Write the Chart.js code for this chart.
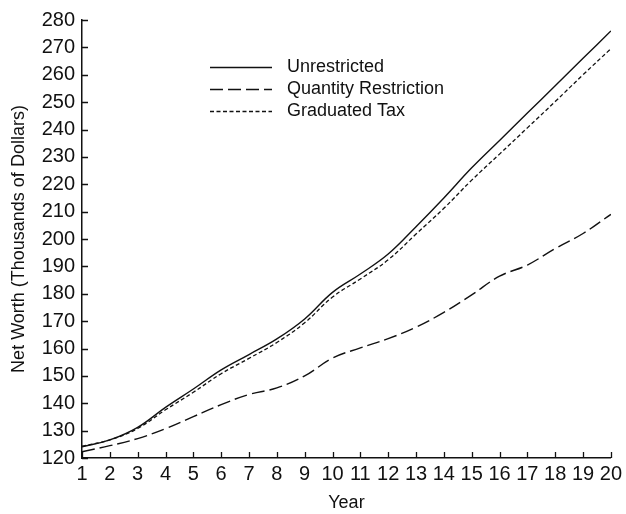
<!DOCTYPE html>
<html>
<head>
<meta charset="utf-8">
<script src="https://cdn.jsdelivr.net/npm/chart.js@4/dist/chart.umd.min.js"></script>
<style>
  html, body { margin: 0; padding: 0; background: #fff; }
  #wrap { width: 626px; height: 514px; }
</style>
</head>
<body>
<div id="wrap"><canvas id="c" width="626" height="514"></canvas></div>
<script>
// Years on the horizontal axis
const years = [1,2,3,4,5,6,7,8,9,10,11,12,13,14,15,16,17,18,19,20];

// Net worth, thousands of dollars
const unrestricted = [124.1,126.6,131.2,138.5,145.2,152.2,157.8,163.5,170.8,180.5,187.2,194.5,204.5,215.0,226.0,236.0,246.0,256.0,266.0,276.0];
const quantityRestriction = [122.3,124.5,127.1,130.7,135.1,139.5,143.2,145.6,150.0,156.5,160.2,163.6,167.8,173.2,179.6,186.4,190.5,196.5,202.0,209.0];
const graduatedTax = [124.3,126.6,130.8,137.6,144.0,150.8,156.4,162.2,169.4,178.8,185.4,192.4,201.8,211.2,221.5,231.0,240.6,250.2,260.0,269.5];

const seriesNames = ['Unrestricted', 'Quantity Restriction', 'Graduated Tax'];

const yTicks = [120,130,140,150,160,170,180,190,200,210,220,230,240,250,260,270,280];

const FONT = '"Liberation Sans", Arial, sans-serif';

function pts(vals) { return years.map((yr, i) => ({ x: yr, y: vals[i] })); }

// Short tick marks pointing into the plot area
const inwardTicks = {
  id: 'inwardTicks',
  afterDraw(chart) {
    const ctx = chart.ctx;
    const xs = chart.scales.x, ys = chart.scales.y;
    ctx.save();
    ctx.strokeStyle = '#111';
    ctx.lineWidth = 1.3;
    ctx.beginPath();
    xs.ticks.forEach((t, i) => {
      const px = Math.round(xs.getPixelForTick(i)) + 0.5;
      ctx.moveTo(px, ys.bottom);
      ctx.lineTo(px, ys.bottom - 6);
    });
    ys.ticks.forEach((t, i) => {
      const py = Math.round(ys.getPixelForTick(i)) + 0.5;
      ctx.moveTo(xs.left, py);
      ctx.lineTo(xs.left + 6, py);
    });
    ctx.stroke();
    ctx.restore();
  }
};

// Key drawn inside the plot, line samples followed by series names
const keyBox = {
  id: 'keyBox',
  afterDraw(chart) {
    const ctx = chart.ctx;
    ctx.save();
    const x0 = 210, x1 = 272, tx = 287;
    const rows = [67, 89, 111];
    chart.data.datasets.forEach((ds, i) => {
      const y = rows[i] + 0.5;
      ctx.strokeStyle = ds.borderColor;
      ctx.lineWidth = ds.borderWidth;
      ctx.setLineDash(ds.borderDash || []);
      ctx.beginPath();
      ctx.moveTo(x0, y);
      ctx.lineTo(x1, y);
      ctx.stroke();
      ctx.setLineDash([]);
      ctx.fillStyle = '#111';
      ctx.font = '18px ' + FONT;
      ctx.textBaseline = 'middle';
      ctx.textAlign = 'left';
      ctx.fillText(ds.label, tx, rows[i]);
    });
    ctx.restore();
  }
};

new Chart(document.getElementById('c'), {
  type: 'line',
  data: {
    datasets: [
      { label: seriesNames[0], data: pts(unrestricted), borderColor: '#111', borderWidth: 1.4, borderDash: [], pointRadius: 0, tension: 0.4, fill: false },
      { label: seriesNames[1], data: pts(quantityRestriction), borderColor: '#111', borderWidth: 1.4, borderDash: [13, 5], pointRadius: 0, tension: 0.4, fill: false },
      { label: seriesNames[2], data: pts(graduatedTax), borderColor: '#111', borderWidth: 1.3, borderDash: [4, 2.5], pointRadius: 0, tension: 0.4, fill: false }
    ]
  },
  options: {
    responsive: false,
    animation: false,
    devicePixelRatio: 1,
    layout: { padding: { left: 0, right: 14, top: 20, bottom: 0 } },
    plugins: { legend: { display: false }, tooltip: { enabled: false } },
    scales: {
      x: {
        type: 'linear',
        min: 1, max: 20,
        afterBuildTicks: (s) => { s.ticks = years.map(v => ({ value: v })); },
        afterFit: (s) => { s.height = 56; },
        grid: { display: true, drawOnChartArea: false, drawTicks: false },
        border: { display: true, color: '#111', width: 1.5 },
        ticks: { color: '#111', padding: 4, maxRotation: 0, autoSkip: false, font: { family: FONT, size: 20 } },
        title: { display: true, text: 'Year', color: '#111', padding: { top: 7, bottom: 0 }, font: { family: FONT, size: 18 } }
      },
      y: {
        type: 'linear',
        min: 120, max: 280,
        afterBuildTicks: (s) => { s.ticks = yTicks.map(v => ({ value: v })); },
        afterFit: (s) => { s.width = 82; },
        grid: { display: true, drawOnChartArea: false, drawTicks: false },
        border: { display: true, color: '#111', width: 1.5 },
        ticks: { color: '#111', padding: 7, autoSkip: false, font: { family: FONT, size: 20 } },
        title: { display: true, text: 'Net Worth (Thousands of Dollars)', color: '#111', padding: { top: 8, bottom: 4 }, font: { family: FONT, size: 18 } }
      }
    }
  },
  plugins: [inwardTicks, keyBox]
});
</script>
</body>
</html>
